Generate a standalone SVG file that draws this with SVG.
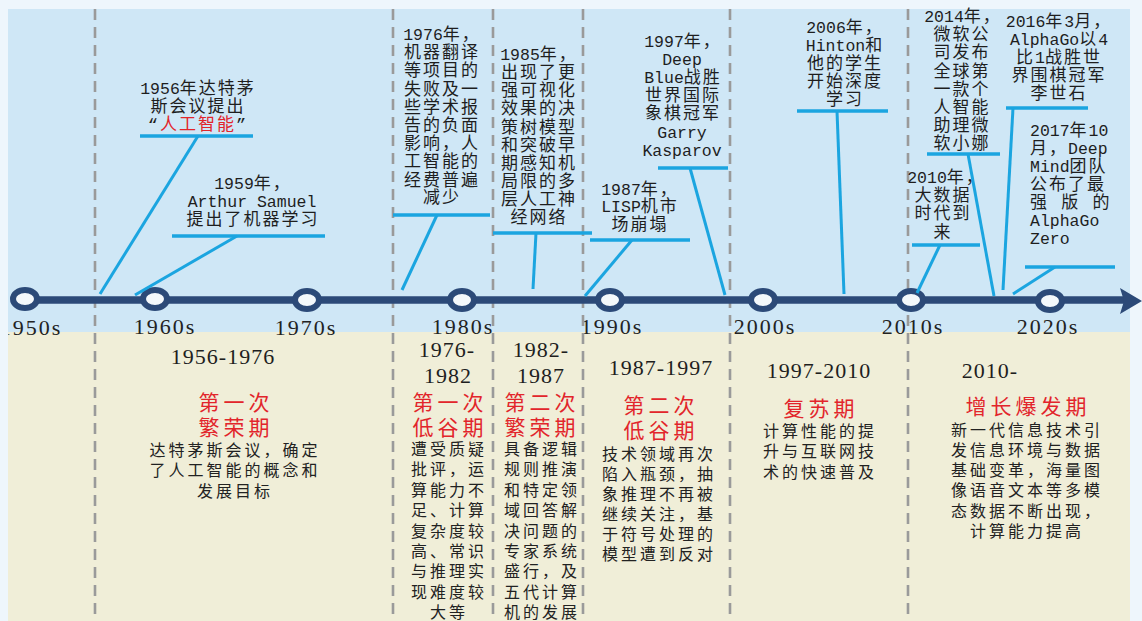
<svg xmlns="http://www.w3.org/2000/svg" width="1142" height="621" viewBox="0 0 1142 621">
<defs>
<style>
.ev{font-family:"Liberation Mono","Noto Sans CJK SC",monospace;font-size:17px;letter-spacing:2px;fill:#1e1e1e;text-anchor:middle}
.evl{font-family:"Liberation Mono","Noto Sans CJK SC",monospace;font-size:17px;letter-spacing:2px;fill:#1e1e1e;text-anchor:start}
.lt{font-family:"Liberation Mono",monospace;font-size:16.5px;letter-spacing:0}
.red{fill:#e2252b}
.ul{stroke:#1ba5e0;stroke-width:3.5;fill:none}
.cn{stroke:#1ba5e0;stroke-width:3;fill:none}
.dash{stroke:#9a9a9a;stroke-width:2.6;stroke-dasharray:11 7;fill:none}
.dec{font-family:"Liberation Serif",serif;font-size:22px;letter-spacing:2px;fill:#222;text-anchor:middle}
.yr{font-family:"Liberation Serif",serif;font-size:22px;letter-spacing:1px;fill:#1e1e1e;text-anchor:middle}
.hd{font-family:"Noto Sans CJK SC",sans-serif;font-size:21px;letter-spacing:4px;fill:#e2252b;text-anchor:middle}
.ds{font-family:"Noto Sans CJK SC",sans-serif;font-size:16px;letter-spacing:3px;fill:#222;text-anchor:middle}
.ring{fill:#f4f8fb;stroke:#2c4a78;stroke-width:6}
</style>
</defs>
<!-- background -->
<rect x="0" y="0" width="1142" height="621" fill="#eef6fc"/>
<rect x="8" y="9" width="1122" height="323" fill="#cfe7f6"/>
<rect x="8" y="332" width="1122" height="289" fill="#f0eed8"/>

<!-- decade labels (under frame edge) -->
<g id="decades">
<text class="dec" x="31" y="335">1950s</text>
<text class="dec" x="165" y="334">1960s</text>
<text class="dec" x="306" y="335">1970s</text>
<text class="dec" x="463" y="334">1980s</text>
<text class="dec" x="612" y="334">1990s</text>
<text class="dec" x="765" y="334">2000s</text>
<text class="dec" x="913" y="334">2010s</text>
<text class="dec" x="1048" y="334">2020s</text>
</g>
<rect x="0" y="0" width="8" height="621" fill="#eef6fc"/>

<!-- dashed separators -->
<g id="separators">
<line class="dash" x1="95" y1="9" x2="95" y2="621"/>
<line class="dash" x1="393" y1="9" x2="393" y2="621"/>
<line class="dash" x1="493" y1="9" x2="493" y2="621"/>
<line class="dash" x1="583" y1="9" x2="583" y2="621"/>
<line class="dash" x1="730" y1="9" x2="730" y2="621"/>
<line class="dash" x1="908" y1="9" x2="908" y2="621"/>
</g>

<!-- axis -->
<g id="axis">
<line x1="25" y1="300" x2="1124" y2="300" stroke="#2c4a78" stroke-width="7.5"/>
<polygon points="1120,288 1142,301 1120,314 1124,301" fill="#2c4a78"/>
<ellipse class="ring" cx="25" cy="299" rx="12" ry="9"/>
<ellipse class="ring" cx="155" cy="299" rx="12" ry="9"/>
<ellipse class="ring" cx="307" cy="300" rx="12" ry="9"/>
<ellipse class="ring" cx="462" cy="300" rx="12" ry="9"/>
<ellipse class="ring" cx="610" cy="300" rx="12" ry="9"/>
<ellipse class="ring" cx="763" cy="300" rx="12" ry="9"/>
<ellipse class="ring" cx="911" cy="300" rx="12" ry="9"/>
<ellipse class="ring" cx="1050" cy="301" rx="12" ry="9"/>
</g>

<!-- connectors -->
<g id="connectors">
<line class="cn" x1="198" y1="136" x2="100" y2="294"/>
<line class="cn" x1="237" y1="236" x2="135" y2="295"/>
<line class="cn" x1="437" y1="215" x2="402" y2="290"/>
<line class="cn" x1="536" y1="233" x2="533" y2="289"/>
<line class="cn" x1="632" y1="240" x2="585" y2="296"/>
<line class="cn" x1="690" y1="168" x2="725" y2="295"/>
<line class="cn" x1="837" y1="111" x2="844" y2="294"/>
<line class="cn" x1="940" y1="245" x2="917" y2="293"/>
<line class="cn" x1="968" y1="154" x2="994" y2="296"/>
<line class="cn" x1="1013" y1="108" x2="1003" y2="290"/>
<line class="cn" x1="1055" y1="267" x2="1013" y2="294"/>
</g>

<!-- top events -->
<g id="ev1956">
<text class="ev" x="198" y="94"><tspan class="lt">1956</tspan>年达特茅</text>
<text class="ev" x="198" y="112">斯会议提出</text>
<text class="ev" x="198" y="130">“<tspan class="red">人工智能</tspan>”</text>
<line class="ul" x1="140" y1="136" x2="253" y2="136"/>
</g>
<g id="ev1959">
<text class="ev" x="253" y="189"><tspan class="lt">1959</tspan>年，</text>
<text class="ev" x="252" y="207"><tspan class="lt">Arthur Samuel</tspan></text>
<text class="ev" x="253" y="225">提出了机器学习</text>
<line class="ul" x1="172" y1="236" x2="325" y2="236"/>
</g>
<g id="ev1976">
<text class="ev" x="442" y="40"><tspan class="lt">1976</tspan>年，</text>
<text class="ev" x="442" y="58">机器翻译</text>
<text class="ev" x="442" y="76">等项目的</text>
<text class="ev" x="442" y="95">失败及一</text>
<text class="ev" x="442" y="113">些学术报</text>
<text class="ev" x="442" y="131">告的负面</text>
<text class="ev" x="442" y="149">影响，人</text>
<text class="ev" x="442" y="167">工智能的</text>
<text class="ev" x="442" y="186">经费普遍</text>
<text class="ev" x="442" y="203">减少</text>
<line class="ul" x1="393" y1="215" x2="490" y2="215"/>
</g>
<g id="ev1985">
<text class="ev" x="539" y="60"><tspan class="lt">1985</tspan>年，</text>
<text class="ev" x="539" y="78">出现了更</text>
<text class="ev" x="539" y="96">强可视化</text>
<text class="ev" x="539" y="114">效果的决</text>
<text class="ev" x="539" y="133">策树模型</text>
<text class="ev" x="539" y="151">和突破早</text>
<text class="ev" x="539" y="169">期感知机</text>
<text class="ev" x="539" y="187">局限的多</text>
<text class="ev" x="539" y="205">层人工神</text>
<text class="ev" x="539" y="223">经网络</text>
<line class="ul" x1="493" y1="233" x2="592" y2="233"/>
</g>
<g id="ev1987">
<text class="ev" x="640" y="195"><tspan class="lt">1987</tspan>年，</text>
<text class="ev" x="640" y="212"><tspan class="lt">LISP</tspan>机市</text>
<text class="ev" x="640" y="230">场崩塌</text>
<line class="ul" x1="590" y1="240" x2="690" y2="240"/>
</g>
<g id="ev1997">
<text class="ev" x="683" y="47"><tspan class="lt">1997</tspan>年，</text>
<text class="ev" x="682" y="65"><tspan class="lt">Deep</tspan></text>
<text class="ev" x="683" y="83"><tspan class="lt">Blue</tspan>战胜</text>
<text class="ev" x="683" y="101">世界国际</text>
<text class="ev" x="683" y="119">象棋冠军</text>
<text class="ev" x="682" y="138"><tspan class="lt">Garry</tspan></text>
<text class="ev" x="682" y="156"><tspan class="lt">Kasparov</tspan></text>
<line class="ul" x1="658" y1="168" x2="728" y2="168"/>
</g>
<g id="ev2006">
<text class="ev" x="845" y="33"><tspan class="lt">2006</tspan>年，</text>
<text class="ev" x="845" y="51"><tspan class="lt">Hinton</tspan>和</text>
<text class="ev" x="845" y="69">他的学生</text>
<text class="ev" x="845" y="87">开始深度</text>
<text class="ev" x="845" y="105">学习</text>
<line class="ul" x1="797" y1="111" x2="888" y2="111"/>
</g>
<g id="ev2010">
<text class="ev" x="946" y="183"><tspan class="lt">2010</tspan>年，</text>
<text class="ev" x="943" y="201">大数据</text>
<text class="ev" x="943" y="219">时代到</text>
<text class="ev" x="943" y="238">来</text>
<line class="ul" x1="912" y1="245" x2="980" y2="245"/>
</g>
<g id="ev2014">
<text class="ev" x="963" y="22"><tspan class="lt">2014</tspan>年，</text>
<text class="ev" x="962" y="40">微软公</text>
<text class="ev" x="962" y="58">司发布</text>
<text class="ev" x="962" y="77">全球第</text>
<text class="ev" x="962" y="95">一款个</text>
<text class="ev" x="962" y="113">人智能</text>
<text class="ev" x="962" y="131">助理微</text>
<text class="ev" x="962" y="149">软小娜</text>
<line class="ul" x1="927" y1="154" x2="1000" y2="154"/>
</g>
<g id="ev2016">
<text class="ev" x="1059" y="27"><tspan class="lt">2016</tspan>年<tspan class="lt">3</tspan>月，</text>
<text class="ev" x="1059" y="45"><tspan class="lt">AlphaGo</tspan>以<tspan class="lt">4</tspan></text>
<text class="ev" x="1059" y="63">比<tspan class="lt">1</tspan>战胜世</text>
<text class="ev" x="1059" y="81">界围棋冠军</text>
<text class="ev" x="1059" y="99">李世石</text>
<line class="ul" x1="1006" y1="108" x2="1088" y2="108"/>
</g>
<g id="ev2017">
<text class="evl" x="1030" y="136"><tspan class="lt">2017</tspan>年<tspan class="lt">10</tspan></text>
<text class="evl" x="1030" y="154">月，<tspan class="lt">Deep</tspan></text>
<text class="evl" x="1030" y="172"><tspan class="lt">Mind</tspan>团队</text>
<text class="evl" x="1030" y="190">公布了最</text>
<text class="evl" x="1030" y="208">强 版 的</text>
<text class="evl" x="1030" y="226"><tspan class="lt">AlphaGo</tspan></text>
<text class="evl" x="1030" y="244"><tspan class="lt">Zero</tspan></text>
<line class="ul" x1="1025" y1="267" x2="1115" y2="267"/>
</g>

<!-- bottom periods -->
<g id="p1956">
<text class="yr" x="223" y="364">1956-1976</text>
<text class="hd" x="236" y="410">第一次</text>
<text class="hd" x="236" y="435">繁荣期</text>
<text class="ds" x="235" y="456">达特茅斯会议，确定</text>
<text class="ds" x="235" y="476">了人工智能的概念和</text>
<text class="ds" x="235" y="497">发展目标</text>
</g>
<g id="p1976">
<text class="yr" x="447" y="357">1976-</text>
<text class="yr" x="448" y="383">1982</text>
<text class="hd" x="450" y="410">第一次</text>
<text class="hd" x="450" y="435">低谷期</text>
<text class="ds" x="449" y="455">遭受质疑</text>
<text class="ds" x="449" y="475">批评，运</text>
<text class="ds" x="449" y="496">算能力不</text>
<text class="ds" x="449" y="516">足、计算</text>
<text class="ds" x="449" y="537">复杂度较</text>
<text class="ds" x="449" y="557">高、常识</text>
<text class="ds" x="449" y="577">与推理实</text>
<text class="ds" x="449" y="598">现难度较</text>
<text class="ds" x="449" y="618">大等</text>
</g>
<g id="p1982">
<text class="yr" x="541" y="357">1982-</text>
<text class="yr" x="541" y="383">1987</text>
<text class="hd" x="542" y="410">第二次</text>
<text class="hd" x="542" y="435">繁荣期</text>
<text class="ds" x="542" y="455">具备逻辑</text>
<text class="ds" x="542" y="475">规则推演</text>
<text class="ds" x="542" y="496">和特定领</text>
<text class="ds" x="542" y="516">域回答解</text>
<text class="ds" x="542" y="537">决问题的</text>
<text class="ds" x="542" y="557">专家系统</text>
<text class="ds" x="542" y="577">盛行，及</text>
<text class="ds" x="542" y="598">五代计算</text>
<text class="ds" x="542" y="618">机的发展</text>
</g>
<g id="p1987">
<text class="yr" x="661" y="375">1987-1997</text>
<text class="hd" x="661" y="413">第二次</text>
<text class="hd" x="661" y="438">低谷期</text>
<text class="ds" x="659" y="460">技术领域再次</text>
<text class="ds" x="659" y="480">陷入瓶颈，抽</text>
<text class="ds" x="659" y="500">象推理不再被</text>
<text class="ds" x="659" y="520">继续关注，基</text>
<text class="ds" x="659" y="540">于符号处理的</text>
<text class="ds" x="659" y="560">模型遭到反对</text>
</g>
<g id="p1997">
<text class="yr" x="819" y="378">1997-2010</text>
<text class="hd" x="821" y="416">复苏期</text>
<text class="ds" x="820" y="437">计算性能的提</text>
<text class="ds" x="820" y="457">升与互联网技</text>
<text class="ds" x="820" y="478">术的快速普及</text>
</g>
<g id="p2010">
<text class="yr" x="990" y="378">2010-</text>
<text class="hd" x="1028" y="414">增长爆发期</text>
<text class="ds" x="1027" y="436">新一代信息技术引</text>
<text class="ds" x="1027" y="456">发信息环境与数据</text>
<text class="ds" x="1027" y="476">基础变革，海量图</text>
<text class="ds" x="1027" y="496">像语音文本等多模</text>
<text class="ds" x="1027" y="517">态数据不断出现，</text>
<text class="ds" x="1027" y="537">计算能力提高</text>
</g>
</svg>
